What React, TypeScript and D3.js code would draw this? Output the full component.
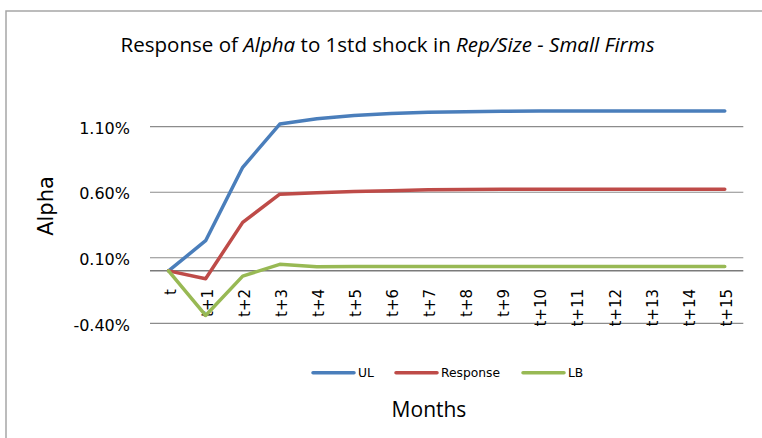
import React, { useEffect, useRef } from "react";
import * as d3 from "d3";

const months = ["t", "t+1", "t+2", "t+3", "t+4", "t+5", "t+6", "t+7", "t+8", "t+9", "t+10", "t+11", "t+12", "t+13", "t+14", "t+15"];
const ul = [0, 0.23, 0.79, 1.12, 1.16, 1.185, 1.2, 1.21, 1.215, 1.218, 1.22, 1.22, 1.22, 1.22, 1.22, 1.22];
const response = [0, -0.06, 0.37, 0.585, 0.596, 0.605, 0.612, 0.618, 0.621, 0.622, 0.623, 0.623, 0.623, 0.623, 0.623, 0.623];
const lb = [0, -0.34, -0.04, 0.05, 0.032, 0.034, 0.034, 0.034, 0.034, 0.034, 0.033, 0.033, 0.033, 0.033, 0.033, 0.033];
const yTicks = [-0.4, 0.1, 0.6, 1.1];

const series = [
  { name: "UL", values: ul, color: "#4a7ebb" },
  { name: "Response", values: response, color: "#be4b48" },
  { name: "LB", values: lb, color: "#98b954" },
];

const sans = "'DejaVu Sans', sans-serif";
const open = "'Open Sans', sans-serif";

export default function App() {
  const svgRef = useRef<SVGSVGElement>(null);

  useEffect(() => {
    const svg = d3.select(svgRef.current);
    svg.selectAll("*").remove();

    // outer chart frame (right/bottom edges fall outside the picture)
    svg.append("rect")
      .attr("x", 6).attr("y", 11)
      .attr("width", 820).attr("height", 500)
      .attr("fill", "none")
      .attr("stroke", "#a6a6a6")
      .attr("stroke-width", 1.5);

    const x = d3.scalePoint<string>().domain(months).range([150, 743.3]).padding(0.5);
    const y = d3.scaleLinear().domain([-0.4, 1.1]).range([323.3, 126.7]);

    // gridlines
    svg.append("g")
      .selectAll("line")
      .data(yTicks)
      .join("line")
      .attr("x1", 150).attr("x2", 743.3)
      .attr("y1", d => y(d)).attr("y2", d => y(d))
      .attr("stroke", "#8c8c8c")
      .attr("stroke-width", 1.2);

    // y tick labels (plain hyphen for negatives, like Excel)
    svg.append("g")
      .selectAll("text")
      .data(yTicks)
      .join("text")
      .attr("x", 130)
      .attr("y", d => y(d) + 1.5)
      .attr("dy", "0.36em")
      .attr("text-anchor", "end")
      .attr("font-family", sans)
      .attr("font-size", 16)
      .attr("fill", "#000")
      .text(d => d.toFixed(2) + "%");

    // zero axis line
    svg.append("line")
      .attr("x1", 150).attr("x2", 743.3)
      .attr("y1", y(0)).attr("y2", y(0))
      .attr("stroke", "#7a7a7a")
      .attr("stroke-width", 1.5);

    // category labels, rotated
    svg.append("g")
      .selectAll("text")
      .data(months)
      .join("text")
      .attr("transform", d => `translate(${x(d)! + 7},289) rotate(-90)`)
      .attr("text-anchor", "end")
      .attr("font-family", sans)
      .attr("font-size", 15)
      .attr("fill", "#000")
      .text(d => d);

    // series lines
    const line = d3.line<number>()
      .x((_, i) => x(months[i])!)
      .y(d => y(d));

    svg.append("g")
      .selectAll("path")
      .data(series)
      .join("path")
      .attr("d", d => line(d.values))
      .attr("fill", "none")
      .attr("stroke", d => d.color)
      .attr("stroke-width", 3.5)
      .attr("stroke-linejoin", "round")
      .attr("stroke-linecap", "round");

    // title
    const title = svg.append("text")
      .attr("x", 120.5).attr("y", 51.5)
      .attr("font-family", open)
      .attr("font-size", 20.5)
      .attr("textLength", 534)
      .attr("lengthAdjust", "spacingAndGlyphs")
      .attr("fill", "#000");
    const parts: [string, boolean][] = [
      ["Response of ", false], ["Alpha", true], [" to 1std shock in ", false],
      ["Rep/Size - Small Firms", true],
    ];
    parts.forEach(([t, it]) => {
      title.append("tspan").attr("font-style", it ? "italic" : "normal").text(t);
    });

    // y axis title
    svg.append("text")
      .attr("transform", "translate(53,206) rotate(-90)")
      .attr("text-anchor", "middle")
      .attr("font-family", sans)
      .attr("font-size", 21)
      .attr("fill", "#000")
      .text("Alpha");

    // legend
    const legendX = [313, 396, 523];
    const lg = svg.append("g")
      .selectAll("g")
      .data(series)
      .join("g")
      .attr("transform", (_, i) => `translate(${legendX[i]},372.7)`);
    lg.append("line")
      .attr("x1", 0).attr("x2", 41)
      .attr("stroke", d => d.color)
      .attr("stroke-width", 3.5)
      .attr("stroke-linecap", "round");
    lg.append("text")
      .attr("x", 45)
      .attr("dy", "0.36em")
      .attr("font-family", sans)
      .attr("font-size", 12.3)
      .attr("fill", "#000")
      .text(d => d.name);

    // x axis title
    svg.append("text")
      .attr("x", 429).attr("y", 416.7)
      .attr("text-anchor", "middle")
      .attr("font-family", open)
      .attr("font-size", 21)
      .attr("fill", "#000")
      .text("Months");
  }, []);

  return (
    <svg
      ref={svgRef}
      width={762}
      height={438}
      style={{ position: "absolute", left: 0, top: 0, background: "#fff" }}
    />
  );
}
